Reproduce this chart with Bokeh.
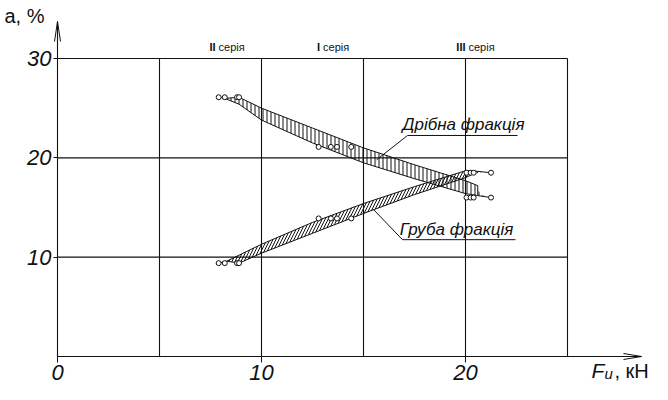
from bokeh.plotting import figure
from bokeh.models import Range1d, FixedTicker
from bokeh.embed import file_html
from bokeh.resources import INLINE
from bokeh.core.properties import value

# ---------------- data ----------------
pts_x = [7.9, 8.2, 8.8, 8.9, 12.8, 13.4, 13.7, 14.4, 20.05, 20.25, 20.4, 21.25]
fine_pts_y = [26.1, 26.1, 26.1, 26.1, 21.1, 21.1, 21.1, 21.1, 16.0, 16.0, 16.0, 16.0]
coarse_pts_y = [9.4, 9.4, 9.4, 9.4, 13.9, 13.9, 13.9, 13.9, 18.5, 18.5, 18.5, 18.5]

fine_upper_x = [8.3, 8.9, 10, 12.5, 15, 17.5, 20, 20.6]
fine_upper_y = [26.0, 26.1, 25.0, 23.0, 21.0, 19.3, 17.7, 17.2]
fine_lower_x = [8.3, 8.9, 10, 12.5, 15, 17.5, 20, 20.6]
fine_lower_y = [25.9, 25.4, 23.8, 21.5, 19.5, 17.9, 16.4, 16.2]

coarse_upper_x = [8.3, 10, 12.5, 15, 17.5, 20, 20.3]
coarse_upper_y = [9.6, 11.3, 13.5, 15.4, 17.1, 18.7, 18.7]
coarse_lower_x = [8.9, 10, 12.5, 15, 17.5, 20, 20.3]
coarse_lower_y = [9.4, 10.4, 12.4, 14.4, 16.3, 18.0, 18.3]

x_ticks = [0, 10, 20]
y_ticks = [10, 20, 30]
x_grid = [5, 10, 15, 20, 25]
y_grid = [10, 20, 30]

series_labels = ["ІІ", "І", "ІІІ"]
series_word = "серія"
series_anchor_x = [7.75, 12.87, 20.0]

fine_label = "Дрібна фракція"
coarse_label = "Груба фракція"
fine_leader_x = [15.64, 17.16, 22.55]
fine_leader_y = [19.8, 22.25, 22.25]
coarse_leader_x = [15.49, 16.91, 22.45]
coarse_leader_y = [14.8, 11.76, 11.76]

# ---------------- layout ----------------
W, H = 652, 384
PXX = 20.4                     # pixels per x unit
X0_PX, Y0_PX = 57, 356         # canvas position of the origin
Y30_PX = 58
PXY = (Y0_PX - Y30_PX) / 30.0  # pixels per y unit
FONT = "'Liberation Sans', Arial, sans-serif"
INK = "#111111"


def dx(px):
    return (px - X0_PX) / PXX


def dy(py):
    return (Y0_PX - py) / PXY


p = figure(width=W, height=H, output_backend="svg", toolbar_location=None,
           x_range=Range1d(dx(0), dx(W)), y_range=Range1d(dy(H), dy(0)),
           min_border=0, min_border_left=0, min_border_right=0,
           min_border_top=0, min_border_bottom=0)
p.outline_line_color = None
p.xgrid.visible = False
p.ygrid.visible = False
p.background_fill_color = "white"
p.border_fill_color = "white"

for ax, ticks, tout in ((p.xaxis[0], x_ticks, 6), (p.yaxis[0], y_ticks, 4)):
    ax.fixed_location = 0
    ax.ticker = FixedTicker(ticks=ticks)
    ax.axis_line_color = None
    ax.major_tick_out = tout
    ax.major_tick_in = 0
    ax.minor_tick_line_color = None
    ax.major_tick_line_color = INK
    ax.major_label_text_font = FONT
    ax.major_label_text_font_style = "italic"
    ax.major_label_text_font_size = "22px"
    ax.major_label_text_color = INK
    ax.major_label_standoff = 2

# grid
x_end_grid = 25
y_end_grid = 30
p.segment(x0=x_grid, y0=[0] * len(x_grid), x1=x_grid, y1=[y_end_grid] * len(x_grid),
          line_color=INK, line_width=1.1)
p.segment(x0=[0] * len(y_grid), y0=y_grid, x1=[x_end_grid] * len(y_grid), y1=y_grid,
          line_color=INK, line_width=1.1)

# axes with arrows
xa_end = dx(641)
ya_end = dy(21)
p.segment(x0=[0, 0], y0=[0, 0], x1=[xa_end, 0], y1=[0, ya_end], line_color=INK, line_width=1.1)
ah_len_x, ah_w_x = 18 / PXX, 3 / PXY
p.line([xa_end - ah_len_x, xa_end, xa_end - ah_len_x], [ah_w_x, 0, -ah_w_x], line_color=INK, line_width=1)
ah_len_y, ah_w_y = 20 / PXY, 3 / PXX
p.line([ah_w_y, 0, -ah_w_y], [ya_end - ah_len_y, ya_end, ya_end - ah_len_y], line_color=INK, line_width=1)

# bands
fine_px = fine_upper_x + fine_lower_x[::-1]
fine_py = fine_upper_y + fine_lower_y[::-1]
p.patch(fine_px, fine_py, fill_color=None, line_color=INK, line_width=1,
        hatch_pattern="vertical_line", hatch_color=INK, hatch_scale=4, hatch_weight=1)
coarse_px = coarse_upper_x + coarse_lower_x[::-1]
coarse_py = coarse_upper_y + coarse_lower_y[::-1]
p.patch(coarse_px, coarse_py, fill_color=None, line_color=INK, line_width=1,
        hatch_pattern="right_diagonal_line", hatch_color=INK, hatch_scale=6, hatch_weight=1)

# tails to outer points
p.line([fine_lower_x[-1], pts_x[-1]], [fine_lower_y[-1], fine_pts_y[-1]], line_color=INK, line_width=1)
p.patch([fine_lower_x[-1], (fine_lower_x[-1] + pts_x[-1]) / 2, fine_lower_x[-1]],
        [fine_lower_y[-1], (fine_lower_y[-1] + fine_pts_y[-1]) / 2, fine_upper_y[-1] - 0.5],
        fill_color=None, line_color=None, hatch_pattern="vertical_line", hatch_color=INK,
        hatch_scale=4, hatch_weight=1)
p.line([coarse_upper_x[-1], pts_x[-1]], [coarse_upper_y[-1], coarse_pts_y[-1]], line_color=INK, line_width=1)
p.patch([coarse_lower_x[-1], (coarse_upper_x[-1] + pts_x[-1]) / 2, coarse_upper_x[-1]],
        [coarse_lower_y[-1], coarse_pts_y[-1] + 0.05, coarse_upper_y[-1]],
        fill_color=None, line_color=None, hatch_pattern="right_diagonal_line", hatch_color=INK,
        hatch_scale=6, hatch_weight=1)
p.line([pts_x[0], fine_upper_x[0]], [fine_pts_y[0], fine_upper_y[0]], line_color=INK, line_width=1)
p.line([pts_x[0], coarse_upper_x[0]], [coarse_pts_y[0], coarse_upper_y[0]], line_color=INK, line_width=1)

# points
p.scatter(pts_x, fine_pts_y, marker="circle", size=5, fill_color="white", line_color=INK, line_width=1)
p.scatter(pts_x, coarse_pts_y, marker="circle", size=5, fill_color="white", line_color=INK, line_width=1)

# leaders and labels
p.line(fine_leader_x, fine_leader_y, line_color=INK, line_width=1)
p.line(coarse_leader_x, coarse_leader_y, line_color=INK, line_width=1)
p.text(x=[19.9], y=[dy(124)], text=[fine_label], text_font=value(FONT), text_font_style="italic",
       text_font_size="17px", text_align="center", text_baseline="middle", text_color=INK)
p.text(x=[19.56], y=[dy(229)], text=[coarse_label], text_font=value(FONT), text_font_style="italic",
       text_font_size="17px", text_align="center", text_baseline="middle", text_color=INK)

# series labels at top
p.text(x=series_anchor_x, y=[dy(46)] * 3, text=series_labels, text_font=value(FONT),
       text_font_style="bold", text_font_size="11px", text_align="right",
       text_baseline="middle", text_color=INK)
p.text(x=series_anchor_x, y=[dy(46)] * 3, text=[series_word] * 3, text_font=value(FONT),
       text_font_size="11px", text_align="left", x_offset=3,
       text_baseline="middle", text_color=INK)


# axis titles
def title_text(px, py, txt, size, style="normal"):
    p.text(x=[dx(px)], y=[dy(py)], text=[txt], text_font=value(FONT), text_font_size=size,
           text_font_style=style, text_align="left", text_baseline="middle", text_color=INK)


title_text(4, 15, "a, %", "20px")
title_text(591, 370, "F", "21px", "italic")
title_text(604, 373, "u", "15px", "italic")
title_text(614, 370, ", кН", "20px")

open("out.html", "w").write(file_html(p, INLINE))
